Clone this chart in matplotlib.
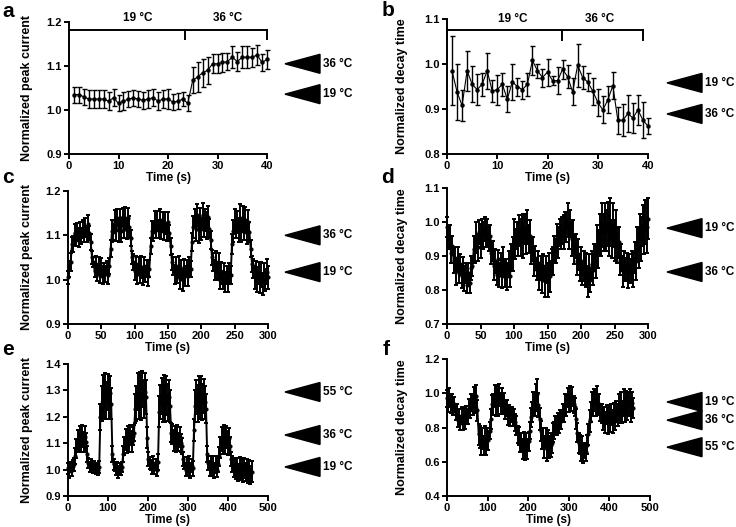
import numpy as np
import matplotlib
matplotlib.use("Agg")
import matplotlib.pyplot as plt
from matplotlib.patches import Polygon

plt.rcParams['font.family'] = ['Liberation Sans', 'DejaVu Sans']
plt.rcParams['font.weight'] = 'bold'

# ---------------- data ----------------
a_time = np.arange(1, 41)
a_mean = [1.035, 1.035, 1.030, 1.025, 1.025, 1.025, 1.025, 1.020, 1.028, 1.015,
          1.020, 1.025, 1.027, 1.025, 1.022, 1.025, 1.028, 1.020, 1.025, 1.025,
          1.018, 1.020, 1.025, 1.015, 1.068, 1.075, 1.085, 1.090, 1.105, 1.105,
          1.108, 1.110, 1.120, 1.110, 1.120, 1.120, 1.120, 1.125, 1.108, 1.115]
a_err = [0.018, 0.018, 0.018, 0.020, 0.020, 0.020, 0.020, 0.020, 0.020, 0.018,
         0.020, 0.018, 0.018, 0.018, 0.020, 0.020, 0.020, 0.020, 0.020, 0.022,
         0.018, 0.018, 0.015, 0.018, 0.030, 0.035, 0.032, 0.030, 0.022, 0.022,
         0.022, 0.020, 0.025, 0.022, 0.025, 0.025, 0.022, 0.022, 0.020, 0.022]

b_time = np.arange(1, 41)
b_mean = [0.985, 0.938, 0.908, 0.985, 0.955, 0.943, 0.955, 0.985, 0.940, 0.943,
          0.955, 0.922, 0.960, 0.950, 0.943, 0.955, 1.008, 0.985, 0.970, 0.982,
          0.963, 0.963, 0.988, 0.972, 0.938, 0.997, 0.970, 0.960, 0.940, 0.915,
          0.898, 0.920, 0.952, 0.875, 0.875, 0.890, 0.880, 0.898, 0.875, 0.862]
b_err = [0.077, 0.062, 0.035, 0.045, 0.040, 0.035, 0.025, 0.040, 0.025, 0.033,
         0.025, 0.028, 0.040, 0.020, 0.020, 0.025, 0.033, 0.015, 0.020, 0.030,
         0.010, 0.030, 0.022, 0.025, 0.030, 0.047, 0.025, 0.020, 0.030, 0.030,
         0.030, 0.030, 0.030, 0.030, 0.035, 0.040, 0.033, 0.033, 0.040, 0.017]

c_time = np.arange(0, 301, 2)
c_mean = [1.005, 1.025, 1.040, 1.080, 1.080, 1.105, 1.090, 1.110, 1.095, 1.115,
          1.098, 1.115, 1.100, 1.118, 1.102, 1.125, 1.105, 1.085, 1.050, 1.040,
          1.020, 1.035, 1.012, 1.030, 1.008, 1.030, 1.010, 1.022, 1.012, 1.028,
          1.010, 1.030, 1.070, 1.110, 1.108, 1.135, 1.112, 1.140, 1.112, 1.138,
          1.110, 1.142, 1.115, 1.138, 1.112, 1.140, 1.118, 1.095, 1.050, 1.040,
          1.020, 1.035, 1.012, 1.030, 1.010, 1.028, 1.008, 1.030, 1.012, 1.025,
          1.008, 1.025, 1.075, 1.110, 1.108, 1.130, 1.112, 1.132, 1.115, 1.135,
          1.112, 1.130, 1.108, 1.128, 1.108, 1.130, 1.105, 1.075, 1.040, 1.030,
          1.012, 1.030, 1.010, 1.028, 1.002, 1.025, 1.000, 1.028, 1.008, 1.025,
          1.008, 1.032, 1.025, 1.085, 1.118, 1.138, 1.115, 1.145, 1.112, 1.140,
          1.115, 1.145, 1.118, 1.135, 1.122, 1.142, 1.115, 1.090, 1.050, 1.040,
          1.022, 1.040, 1.020, 1.032, 1.000, 1.015, 1.000, 1.012, 0.995, 1.010,
          0.998, 1.015, 1.010, 1.080, 1.110, 1.132, 1.115, 1.130, 1.112, 1.140,
          1.110, 1.138, 1.112, 1.135, 1.105, 1.130, 1.108, 1.070, 1.035, 1.025,
          1.005, 1.020, 1.000, 1.015, 0.992, 1.012, 0.990, 1.015, 1.000, 1.018,
          1.005]
c_err = [0.015, 0.018, 0.020, 0.016, 0.018, 0.020, 0.015, 0.018, 0.022, 0.016,
         0.018, 0.020, 0.015, 0.022, 0.018, 0.020, 0.016, 0.018, 0.015, 0.012,
         0.015, 0.018, 0.016, 0.020, 0.015, 0.018, 0.020, 0.016, 0.018, 0.015,
         0.020, 0.018, 0.020, 0.025, 0.018, 0.022, 0.025, 0.020, 0.028, 0.022,
         0.025, 0.020, 0.022, 0.025, 0.020, 0.022, 0.025, 0.018, 0.015, 0.018,
         0.020, 0.018, 0.022, 0.020, 0.018, 0.025, 0.020, 0.022, 0.018, 0.020,
         0.022, 0.020, 0.018, 0.022, 0.020, 0.025, 0.018, 0.022, 0.020, 0.025,
         0.020, 0.022, 0.018, 0.025, 0.020, 0.022, 0.018, 0.020, 0.018, 0.020,
         0.022, 0.020, 0.018, 0.025, 0.022, 0.020, 0.025, 0.018, 0.022, 0.020,
         0.022, 0.020, 0.018, 0.020, 0.025, 0.022, 0.028, 0.025, 0.030, 0.022,
         0.025, 0.028, 0.022, 0.025, 0.030, 0.025, 0.022, 0.020, 0.018, 0.020,
         0.022, 0.025, 0.020, 0.028, 0.022, 0.025, 0.020, 0.025, 0.022, 0.020,
         0.025, 0.022, 0.020, 0.022, 0.025, 0.028, 0.022, 0.025, 0.028, 0.030,
         0.025, 0.028, 0.022, 0.030, 0.025, 0.028, 0.022, 0.020, 0.018, 0.022,
         0.025, 0.022, 0.028, 0.025, 0.022, 0.028, 0.025, 0.022, 0.025, 0.028,
         0.025]

d_time = np.arange(0, 301, 2)
d_mean = [0.985, 0.950, 0.955, 0.910, 0.930, 0.885, 0.895, 0.855, 0.895, 0.850,
          0.875, 0.840, 0.870, 0.830, 0.850, 0.815, 0.850, 0.820, 0.865, 0.870,
          0.920, 0.915, 0.955, 0.925, 0.970, 0.945, 0.965, 0.960, 0.980, 0.955,
          0.970, 0.950, 0.960, 0.910, 0.915, 0.870, 0.885, 0.845, 0.890, 0.845,
          0.880, 0.840, 0.885, 0.845, 0.860, 0.840, 0.880, 0.840, 0.895, 0.905,
          0.950, 0.935, 0.960, 0.950, 0.975, 0.955, 0.980, 0.960, 0.980, 0.945,
          0.985, 0.950, 0.960, 0.915, 0.920, 0.880, 0.895, 0.860, 0.880, 0.840,
          0.865, 0.830, 0.870, 0.825, 0.860, 0.830, 0.870, 0.840, 0.885, 0.885,
          0.920, 0.915, 0.955, 0.940, 0.970, 0.955, 0.975, 0.970, 0.990, 0.985,
          1.005, 0.965, 0.995, 0.950, 0.960, 0.915, 0.930, 0.885, 0.905, 0.865,
          0.885, 0.850, 0.870, 0.855, 0.860, 0.825, 0.865, 0.830, 0.875, 0.860,
          0.895, 0.885, 0.930, 0.920, 0.965, 0.950, 0.990, 0.970, 0.985, 0.975,
          0.995, 0.960, 1.000, 0.950, 0.990, 0.945, 0.980, 0.930, 0.940, 0.885,
          0.895, 0.855, 0.875, 0.860, 0.870, 0.850, 0.865, 0.855, 0.875, 0.860,
          0.895, 0.885, 0.935, 0.925, 0.970, 0.950, 0.990, 0.975, 1.000, 0.985,
          1.010]
d_err = [0.030, 0.025, 0.035, 0.030, 0.028, 0.035, 0.030, 0.040, 0.032, 0.028,
         0.030, 0.035, 0.028, 0.032, 0.030, 0.025, 0.028, 0.030, 0.035, 0.030,
         0.040, 0.035, 0.045, 0.040, 0.035, 0.050, 0.045, 0.040, 0.035, 0.030,
         0.040, 0.035, 0.030, 0.035, 0.030, 0.040, 0.035, 0.030, 0.028, 0.035,
         0.030, 0.035, 0.040, 0.035, 0.030, 0.040, 0.035, 0.030, 0.040, 0.050,
         0.060, 0.045, 0.040, 0.050, 0.045, 0.055, 0.040, 0.065, 0.045, 0.040,
         0.050, 0.040, 0.045, 0.040, 0.035, 0.040, 0.035, 0.030, 0.035, 0.040,
         0.035, 0.040, 0.035, 0.045, 0.040, 0.050, 0.040, 0.045, 0.035, 0.040,
         0.040, 0.035, 0.040, 0.045, 0.040, 0.035, 0.040, 0.050, 0.040, 0.045,
         0.050, 0.045, 0.040, 0.050, 0.045, 0.040, 0.035, 0.040, 0.045, 0.040,
         0.040, 0.035, 0.045, 0.040, 0.050, 0.045, 0.040, 0.035, 0.040, 0.045,
         0.040, 0.050, 0.060, 0.055, 0.060, 0.050, 0.065, 0.055, 0.070, 0.060,
         0.065, 0.060, 0.070, 0.055, 0.065, 0.060, 0.055, 0.050, 0.045, 0.040,
         0.040, 0.045, 0.040, 0.035, 0.040, 0.045, 0.040, 0.035, 0.040, 0.050,
         0.045, 0.055, 0.050, 0.060, 0.055, 0.065, 0.060, 0.070, 0.065, 0.075,
         0.060]

e_time = np.arange(0, 460, 3)
e_mean = [1.005, 0.995, 1.012, 0.998, 1.015, 1.020, 1.050, 1.080, 1.110, 1.100,
          1.125, 1.100, 1.128, 1.105, 1.125, 1.105, 1.060, 1.025, 1.010, 1.018,
          1.012, 1.005, 1.010, 1.002, 1.008, 1.000, 1.010, 1.200, 1.250, 1.290,
          1.265, 1.300, 1.260, 1.295, 1.265, 1.290, 1.250, 1.060, 1.020, 1.012,
          1.000, 1.010, 0.990, 1.005, 0.998, 1.010, 1.060, 1.090, 1.115, 1.100,
          1.125, 1.100, 1.130, 1.105, 1.128, 1.140, 1.230, 1.250, 1.295, 1.265,
          1.300, 1.262, 1.305, 1.268, 1.295, 1.275, 1.120, 1.040, 1.025, 1.018,
          1.005, 1.025, 1.002, 1.020, 1.000, 1.030, 1.220, 1.255, 1.280, 1.250,
          1.285, 1.250, 1.280, 1.255, 1.275, 1.240, 1.140, 1.135, 1.110, 1.130,
          1.105, 1.128, 1.105, 1.125, 1.100, 1.090, 1.040, 1.025, 1.000, 1.018,
          1.000, 1.020, 0.998, 1.015, 1.005, 1.150, 1.240, 1.275, 1.250, 1.285,
          1.255, 1.285, 1.255, 1.280, 1.255, 1.230, 1.060, 1.025, 1.005, 1.020,
          1.000, 1.022, 0.998, 1.018, 1.000, 1.020, 1.050, 1.085, 1.115, 1.100,
          1.125, 1.100, 1.125, 1.102, 1.118, 1.090, 1.040, 1.020, 1.005, 1.010,
          0.995, 1.010, 0.990, 1.008, 0.990, 1.005, 0.985, 1.005, 0.990, 1.000,
          0.985, 0.998, 0.980, 0.992]
e_err = [0.020, 0.025, 0.018, 0.022, 0.020, 0.025, 0.030, 0.035, 0.040, 0.035,
         0.040, 0.035, 0.042, 0.038, 0.040, 0.035, 0.030, 0.020, 0.018, 0.022,
         0.020, 0.018, 0.022, 0.020, 0.018, 0.020, 0.022, 0.050, 0.065, 0.070,
         0.075, 0.065, 0.070, 0.068, 0.075, 0.065, 0.060, 0.030, 0.020, 0.018,
         0.020, 0.018, 0.022, 0.020, 0.018, 0.020, 0.030, 0.035, 0.040, 0.038,
         0.040, 0.035, 0.038, 0.040, 0.035, 0.030, 0.055, 0.065, 0.070, 0.072,
         0.070, 0.075, 0.068, 0.072, 0.070, 0.065, 0.040, 0.025, 0.022, 0.020,
         0.022, 0.025, 0.020, 0.022, 0.025, 0.030, 0.060, 0.065, 0.068, 0.070,
         0.072, 0.068, 0.075, 0.070, 0.065, 0.060, 0.035, 0.038, 0.040, 0.035,
         0.038, 0.040, 0.035, 0.038, 0.035, 0.030, 0.025, 0.022, 0.025, 0.028,
         0.025, 0.030, 0.028, 0.025, 0.028, 0.040, 0.060, 0.065, 0.070, 0.068,
         0.065, 0.070, 0.068, 0.065, 0.062, 0.055, 0.030, 0.025, 0.028, 0.030,
         0.025, 0.030, 0.028, 0.032, 0.028, 0.030, 0.035, 0.040, 0.045, 0.042,
         0.045, 0.040, 0.042, 0.045, 0.040, 0.035, 0.025, 0.030, 0.032, 0.035,
         0.030, 0.035, 0.032, 0.038, 0.030, 0.035, 0.032, 0.038, 0.035, 0.040,
         0.035, 0.040, 0.035, 0.040]

f_time = np.arange(0, 460, 3)
f_mean = [0.970, 0.935, 0.975, 0.935, 0.950, 0.925, 0.935, 0.885, 0.895, 0.845,
          0.865, 0.825, 0.870, 0.830, 0.875, 0.835, 0.885, 0.865, 0.915, 0.900,
          0.945, 0.930, 0.975, 0.955, 0.985, 0.900, 0.760, 0.745, 0.690, 0.735,
          0.695, 0.745, 0.690, 0.740, 0.725, 0.780, 0.850, 0.935, 0.935, 0.985,
          0.935, 0.985, 0.945, 0.990, 0.940, 0.975, 0.930, 0.945, 0.900, 0.915,
          0.865, 0.885, 0.860, 0.875, 0.850, 0.865, 0.830, 0.810, 0.760, 0.750,
          0.705, 0.715, 0.675, 0.725, 0.665, 0.715, 0.675, 0.720, 0.780, 0.860,
          0.890, 0.945, 0.935, 0.975, 0.995, 0.930, 0.850, 0.780, 0.730, 0.735,
          0.685, 0.735, 0.675, 0.725, 0.685, 0.700, 0.710, 0.770, 0.780, 0.815,
          0.805, 0.830, 0.820, 0.855, 0.840, 0.885, 0.885, 0.940, 0.930, 0.975,
          0.940, 0.985, 0.945, 0.980, 0.935, 0.920, 0.850, 0.770, 0.710, 0.700,
          0.655, 0.695, 0.645, 0.665, 0.655, 0.700, 0.760, 0.840, 0.890, 0.945,
          0.935, 0.960, 0.945, 0.970, 0.935, 0.940, 0.890, 0.880, 0.845, 0.865,
          0.830, 0.875, 0.825, 0.870, 0.830, 0.875, 0.835, 0.885, 0.840, 0.895,
          0.875, 0.925, 0.885, 0.935, 0.890, 0.945, 0.900, 0.940, 0.925, 0.935,
          0.950, 0.900, 0.945, 0.915]
f_err = [0.050, 0.045, 0.055, 0.050, 0.045, 0.050, 0.045, 0.040, 0.045, 0.040,
         0.045, 0.040, 0.050, 0.045, 0.040, 0.045, 0.040, 0.045, 0.050, 0.045,
         0.050, 0.055, 0.060, 0.070, 0.065, 0.060, 0.060, 0.065, 0.050, 0.060,
         0.055, 0.065, 0.050, 0.060, 0.055, 0.050, 0.060, 0.055, 0.060, 0.065,
         0.070, 0.060, 0.075, 0.065, 0.060, 0.055, 0.050, 0.055, 0.050, 0.045,
         0.050, 0.045, 0.050, 0.045, 0.040, 0.045, 0.050, 0.055, 0.050, 0.055,
         0.050, 0.055, 0.060, 0.050, 0.055, 0.050, 0.060, 0.055, 0.050, 0.055,
         0.060, 0.065, 0.070, 0.080, 0.090, 0.070, 0.065, 0.060, 0.055, 0.060,
         0.065, 0.060, 0.070, 0.060, 0.065, 0.070, 0.060, 0.055, 0.050, 0.055,
         0.050, 0.055, 0.050, 0.045, 0.050, 0.055, 0.050, 0.055, 0.060, 0.055,
         0.050, 0.055, 0.050, 0.055, 0.050, 0.055, 0.060, 0.055, 0.060, 0.055,
         0.050, 0.055, 0.050, 0.045, 0.050, 0.055, 0.060, 0.065, 0.060, 0.065,
         0.070, 0.065, 0.075, 0.070, 0.060, 0.055, 0.050, 0.055, 0.060, 0.055,
         0.060, 0.055, 0.065, 0.060, 0.055, 0.060, 0.065, 0.060, 0.055, 0.060,
         0.065, 0.070, 0.060, 0.075, 0.065, 0.080, 0.070, 0.075, 0.080, 0.070,
         0.075, 0.070, 0.065, 0.060]

# marker levels (temperature arrowheads)
a_levels = [(1.105, "36 °C"), (1.036, "19 °C")]
b_levels = [(0.958, "19 °C"), (0.889, "36 °C")]
c_levels = [(1.100, "36 °C"), (1.017, "19 °C")]
d_levels = [(0.982, "19 °C"), (0.853, "36 °C")]
e_levels = [(1.294, "55 °C"), (1.131, "36 °C"), (1.010, "19 °C")]
f_levels = [(0.949, "19 °C"), (0.843, "36 °C"), (0.685, "55 °C")]

# ---------------- figure ----------------
W, H = 736, 527
fig = plt.figure(figsize=(W / 100, H / 100), dpi=100)
fig.patch.set_facecolor('white')


def make_ax(L, R, T, B):
    return fig.add_axes([L / W, 1 - B / H, (R - L) / W, (B - T) / H])


def style(ax, geom, xlim, ylim, xticks, yticks, ylabel, ylab_x):
    L, R, T, B = geom
    ax.set_xlim(xlim)
    ax.set_ylim(ylim)
    ax.set_xticks(xticks)
    ax.set_yticks(yticks)
    ax.set_yticklabels([f"{v:.1f}" for v in yticks])
    for s in ['top', 'right']:
        ax.spines[s].set_visible(False)
    for s in ['left', 'bottom']:
        ax.spines[s].set_linewidth(1.4)
    ax.tick_params(direction='out', length=3.5, width=1.4, labelsize=8, pad=1.5)
    for lab in ax.get_xticklabels() + ax.get_yticklabels():
        lab.set_fontweight('bold')
    ax.set_xlabel('Time (s)', fontsize=8.5, fontweight='bold', labelpad=1)
    ax.set_ylabel(ylabel, fontsize=9, fontweight='bold')
    ax.yaxis.set_label_coords((ylab_x - L) / (R - L), 0.5)


def arrows(geom, ylim, levels, x0, x1):
    L, R, T, B = geom
    hpx = 19
    for lev, txt in levels:
        yc = T + (ylim[1] - lev) / (ylim[1] - ylim[0]) * (B - T)
        pts = [(x0 / W, 1 - yc / H), (x1 / W, 1 - (yc - hpx / 2) / H),
               (x1 / W, 1 - (yc + hpx / 2) / H)]
        fig.patches.append(Polygon(pts, closed=True, facecolor='black',
                                   edgecolor='black', transform=fig.transFigure))
        fig.text((x1 + 3) / W, 1 - yc / H, txt, fontsize=8.5, fontweight='bold',
                 va='center', ha='left')


def data(ax, x, y, e, ms, cap, lw, elw):
    ax.errorbar(x, y, yerr=e, fmt='-o', color='black', ms=ms, lw=lw,
                elinewidth=elw, capsize=cap, capthick=elw, clip_on=False, zorder=3)


# panel a
ga = (69, 267, 22, 154)
ax = make_ax(*ga)
data(ax, a_time, a_mean, a_err, 2.2, 1.8, 0.8, 1.0)
style(ax, ga, (0, 40), (0.9, 1.2), [0, 10, 20, 30, 40], [0.9, 1.0, 1.1, 1.2],
      'Normalized peak current', 33)
ax.plot([0, 40], [1.182, 1.182], color='black', lw=1.4, clip_on=False)
ax.plot([23.5, 23.5], [1.182, 1.161], color='black', lw=1.4, clip_on=False)
ax.plot([40, 40], [1.182, 1.161], color='black', lw=1.4, clip_on=False)
ax.text(13.9, 1.209, "19 °C", fontsize=8.5, fontweight='bold', ha='center', va='center')
ax.text(32, 1.209, "36 °C", fontsize=8.5, fontweight='bold', ha='center', va='center')
arrows(ga, (0.9, 1.2), a_levels, 285, 320)

# panel b
gb = (447, 648, 19, 154)
ax = make_ax(*gb)
data(ax, b_time, b_mean, b_err, 2.2, 1.8, 0.8, 1.0)
style(ax, gb, (0, 40), (0.8, 1.1), [0, 10, 20, 30, 40], [0.8, 0.9, 1.0, 1.1],
      'Normalized decay time', 408)
ax.plot([0, 39], [1.076, 1.076], color='black', lw=1.4, clip_on=False)
for xv in [0, 22.9, 39]:
    ax.plot([xv, xv], [1.076, 1.053], color='black', lw=1.4, clip_on=False)
ax.text(13, 1.1, "19 °C", fontsize=8.5, fontweight='bold', ha='center', va='center')
ax.text(30.4, 1.1, "36 °C", fontsize=8.5, fontweight='bold', ha='center', va='center')
arrows(gb, (0.8, 1.1), b_levels, 667, 702)

# dense panels
DMS, DCAP, DLW, DELW = 2.0, 1.5, 1.4, 1.4

# panel c
gc = (68, 268, 191, 324)
ax = make_ax(*gc)
data(ax, c_time, c_mean, c_err, DMS, DCAP, DLW, DELW)
style(ax, gc, (0, 300), (0.9, 1.2), [0, 50, 100, 150, 200, 250, 300],
      [0.9, 1.0, 1.1, 1.2], 'Normalized peak current', 33)
arrows(gc, (0.9, 1.2), c_levels, 285, 320)

# panel d
gd = (447, 648, 188, 324)
ax = make_ax(*gd)
data(ax, d_time, d_mean, d_err, DMS, DCAP, DLW, DELW)
style(ax, gd, (0, 300), (0.7, 1.1), [0, 50, 100, 150, 200, 250, 300],
      [0.7, 0.8, 0.9, 1.0, 1.1], 'Normalized decay time', 408)
arrows(gd, (0.7, 1.1), d_levels, 667, 702)

# panel e
ge = (68, 268, 364, 496)
ax = make_ax(*ge)
data(ax, e_time, e_mean, e_err, DMS, DCAP, DLW, DELW)
style(ax, ge, (0, 500), (0.9, 1.4), [0, 100, 200, 300, 400, 500],
      [0.9, 1.0, 1.1, 1.2, 1.3, 1.4], 'Normalized peak current', 33)
arrows(ge, (0.9, 1.4), e_levels, 285, 320)

# panel f
gf = (447, 650, 359, 496)
ax = make_ax(*gf)
data(ax, f_time, f_mean, f_err, DMS, DCAP, DLW, DELW)
style(ax, gf, (0, 500), (0.4, 1.2), [0, 100, 200, 300, 400, 500],
      [0.4, 0.6, 0.8, 1.0, 1.2], 'Normalized decay time', 408)
arrows(gf, (0.4, 1.2), f_levels, 667, 702)

# panel letters
for (x, y, t) in [(2, 17, 'a'), (382, 16, 'b'), (2, 183, 'c'), (381, 183, 'd'),
                  (2, 355, 'e'), (383, 355, 'f')]:
    fig.text(x / W, 1 - y / H, t, fontsize=15, fontweight='bold', va='baseline', ha='left')

fig.savefig('out.png', dpi=100, facecolor='white')
